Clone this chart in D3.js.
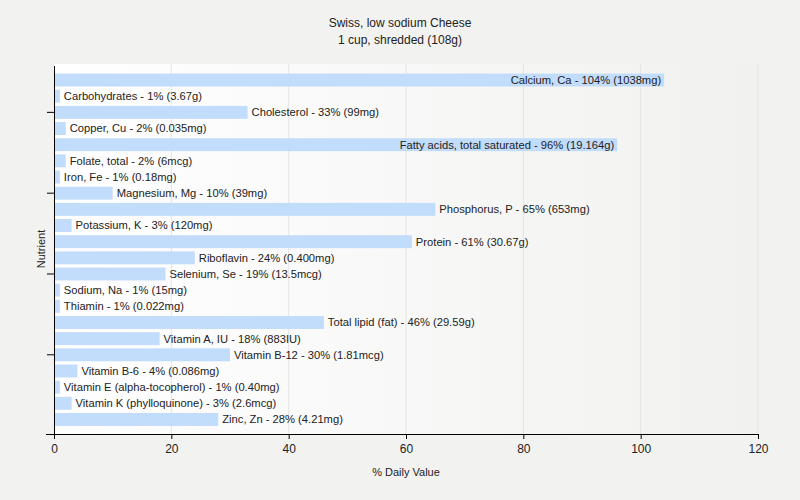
<!DOCTYPE html>
<html>
<head>
<meta charset="utf-8">
<script src="https://cdn.jsdelivr.net/npm/d3@7"></script>
<style>
  body { margin: 0; background: #f2f2f1; }
  svg { display: block; font-family: "Liberation Sans", Arial, sans-serif; }
</style>
</head>
<body>
<svg id="chart" width="800" height="500"></svg>
<script>
const nutrients = [
  "Calcium, Ca", "Carbohydrates", "Cholesterol", "Copper, Cu",
  "Fatty acids, total saturated", "Folate, total", "Iron, Fe", "Magnesium, Mg",
  "Phosphorus, P", "Potassium, K", "Protein", "Riboflavin", "Selenium, Se",
  "Sodium, Na", "Thiamin", "Total lipid (fat)", "Vitamin A, IU", "Vitamin B-12",
  "Vitamin B-6", "Vitamin E (alpha-tocopherol)", "Vitamin K (phylloquinone)", "Zinc, Zn"
];
const dailyValues = [104, 1, 33, 2, 96, 2, 1, 10, 65, 3, 61, 24, 19, 1, 1, 46, 18, 30, 4, 1, 3, 28];
const amounts = [
  "1038mg", "3.67g", "99mg", "0.035mg", "19.164g", "6mcg", "0.18mg", "39mg",
  "653mg", "120mg", "30.67g", "0.400mg", "13.5mcg", "15mg", "0.022mg", "29.59g",
  "883IU", "1.81mcg", "0.086mg", "0.40mg", "2.6mcg", "4.21mg"
];
const xTicks = [0, 20, 40, 60, 80, 100, 120];

const data = nutrients.map((name, i) => ({
  name,
  value: dailyValues[i],
  label: `${name} - ${dailyValues[i]}% (${amounts[i]})`
}));

const width = 800,
  height = 500,
  margin = { left: 54, top: 64, right: 42, bottom: 66 },
  iwidth = width - margin.left - margin.right,
  iheight = height - margin.top - margin.bottom;

const svg = d3.select("#chart");

const x = d3.scaleLinear().domain([0, 120]).range([0, iwidth]);
const y = d3.scaleBand()
  .domain(nutrients)
  .range([1.5, iheight])
  .paddingInner(0.2)
  .paddingOuter(0.5);

// plot background gradient
const grad = svg.append("defs").append("linearGradient")
  .attr("id", "bg").attr("x1", "0").attr("x2", "1").attr("y1", "0").attr("y2", "0");
grad.append("stop").attr("offset", "0%").attr("stop-color", "#ffffff");
grad.append("stop").attr("offset", "100%").attr("stop-color", "#f1f1f0");

// titles
svg.append("text")
  .attr("x", 400).attr("y", 27)
  .attr("text-anchor", "middle")
  .attr("font-size", 12).attr("fill", "#222")
  .text("Swiss, low sodium Cheese");
svg.append("text")
  .attr("x", 400).attr("y", 44)
  .attr("text-anchor", "middle")
  .attr("font-size", 12).attr("fill", "#222")
  .text("1 cup, shredded (108g)");

const g = svg.append("g")
  .attr("transform", `translate(${margin.left}, ${margin.top})`);

g.append("rect")
  .attr("width", iwidth).attr("height", iheight)
  .attr("fill", "url(#bg)");

// grid
g.selectAll(".grid")
  .data(xTicks.slice(1))
  .join("line")
  .attr("class", "grid")
  .attr("x1", (d) => x(d)).attr("x2", (d) => x(d))
  .attr("y1", 0).attr("y2", iheight)
  .attr("stroke", "#e4e4e4");

// bars
g.selectAll(".bar")
  .data(data)
  .join("rect")
  .attr("class", "bar")
  .attr("x", 0)
  .attr("y", (d) => y(d.name))
  .attr("width", (d) => x(d.value))
  .attr("height", y.bandwidth())
  .attr("fill", "#c2dcfb");

// labels
const labels = g.selectAll(".label")
  .data(data)
  .join("text")
  .attr("class", "label")
  .attr("y", (d) => y(d.name) + y.bandwidth() / 2)
  .attr("dy", "0.35em")
  .attr("font-size", 11.2)
  .attr("fill", "#222")
  .text((d) => d.label);

labels.each(function (d) {
  const w = this.getComputedTextLength();
  const end = x(d.value);
  const t = d3.select(this);
  if (end + 4 + w > iwidth) {
    t.attr("x", end - 3).attr("text-anchor", "end");
  } else {
    t.attr("x", end + 4).attr("text-anchor", "start");
  }
});

// axes
const xAxis = g.append("g")
  .attr("transform", `translate(0, ${iheight})`)
  .call(d3.axisBottom(x).tickValues(xTicks).tickSize(5).tickSizeOuter(0));
xAxis.select(".domain").attr("d", `M-8,0.5H${iwidth}`).attr("stroke", "#000");
xAxis.selectAll("text").attr("font-size", 12).attr("fill", "#222").attr("dy", "0.95em");

const yAxis = g.append("g")
  .call(d3.axisLeft(y)
    .tickValues(nutrients.filter((d, i) => i % 5 === 2))
    .tickFormat("")
    .tickSize(7)
    .tickSizeOuter(0));
yAxis.select(".domain").attr("stroke", "#000");

svg.append("text")
  .attr("transform", `translate(45, ${margin.top + iheight / 2}) rotate(-90)`)
  .attr("text-anchor", "middle")
  .attr("font-size", 11).attr("fill", "#222")
  .text("Nutrient");

svg.append("text")
  .attr("x", margin.left + iwidth / 2).attr("y", 476)
  .attr("text-anchor", "middle")
  .attr("font-size", 11).attr("fill", "#222")
  .text("% Daily Value");
</script>
</body>
</html>
